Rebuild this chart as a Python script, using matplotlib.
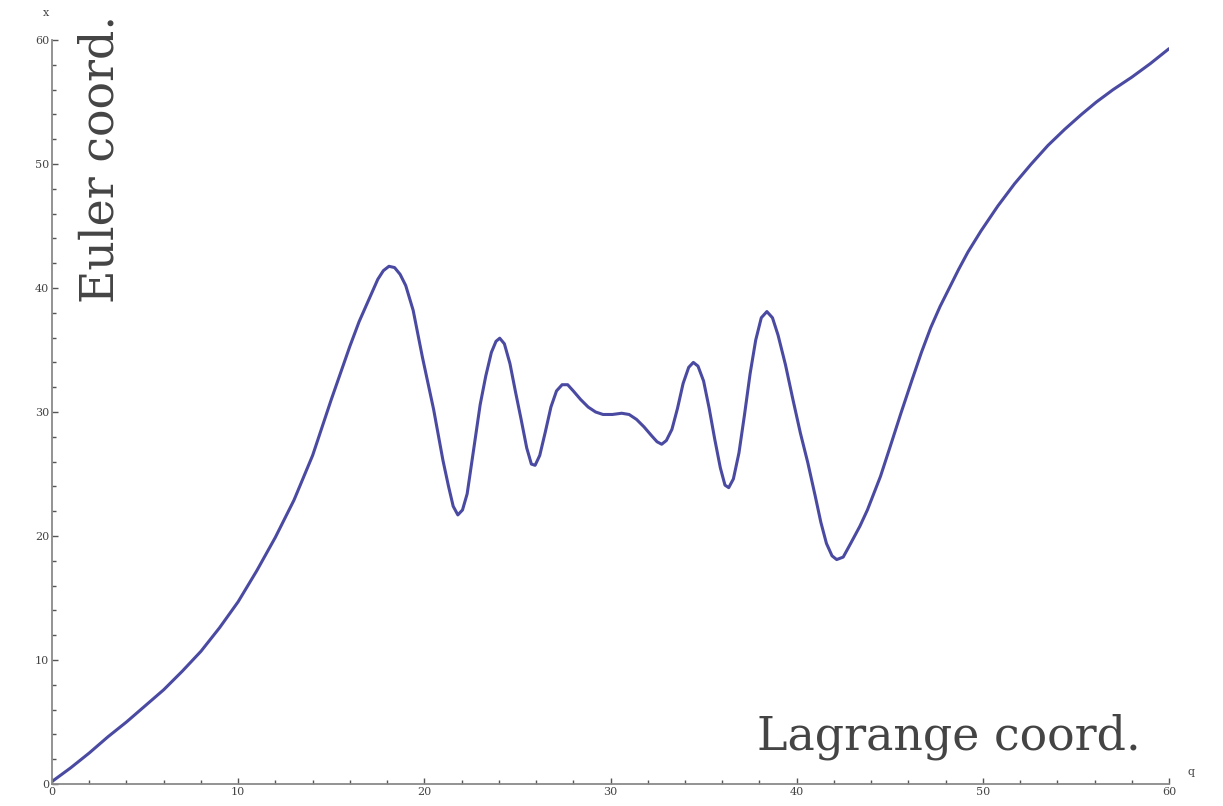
import matplotlib
matplotlib.use("Agg")
import matplotlib.pyplot as plt
from matplotlib.ticker import MultipleLocator

# Lagrange coordinate q vs Euler coordinate x
q = [0.0, 1.0, 2.0, 3.0, 4.0, 5.0, 6.0, 7.0, 8.0, 9.0, 10.0, 11.0, 12.0, 13.0, 14.0,
     15.0, 16.0, 16.5, 17.0, 17.5, 17.8, 18.1, 18.4, 18.7, 19.0, 19.4, 19.9, 20.5,
     21.0, 21.3, 21.55, 21.8, 22.05, 22.3, 22.7, 23.0, 23.3, 23.6, 23.85, 24.05,
     24.3, 24.6, 24.9, 25.2, 25.5, 25.75, 25.95, 26.2, 26.5, 26.8, 27.1, 27.4, 27.7,
     28.0, 28.4, 28.8, 29.2, 29.6, 30.1, 30.6, 31.0, 31.4, 31.8, 32.2, 32.5, 32.75,
     33.0, 33.3, 33.6, 33.9, 34.2, 34.45, 34.7, 35.0, 35.3, 35.6, 35.9, 36.15, 36.35,
     36.6, 36.9, 37.2, 37.5, 37.8, 38.1, 38.4, 38.7, 39.0, 39.4, 39.8, 40.2, 40.6,
     41.0, 41.3, 41.6, 41.9, 42.15, 42.5, 42.9, 43.4, 43.8, 44.5, 45.0, 45.6, 46.2,
     46.7, 47.2, 47.7, 48.2, 48.7, 49.2, 49.9, 50.8, 51.7, 52.6, 53.5, 54.4, 55.3,
     56.1, 57.0, 58.0, 59.0, 60.0]
x = [0.2, 1.3, 2.5, 3.8, 5.0, 6.3, 7.6, 9.1, 10.7, 12.6, 14.7, 17.2, 19.9, 22.9, 26.5,
     31.0, 35.3, 37.3, 39.0, 40.7, 41.4, 41.75, 41.65, 41.1, 40.2, 38.2, 34.4, 30.2,
     26.1, 24.0, 22.4, 21.7, 22.1, 23.4, 27.5, 30.6, 32.9, 34.8, 35.7, 35.95,
     35.5, 33.9, 31.6, 29.4, 27.1, 25.8, 25.7, 26.5, 28.4, 30.4, 31.7, 32.2, 32.2,
     31.7, 31.0, 30.4, 30.0, 29.8, 29.8, 29.9, 29.8, 29.4, 28.8, 28.1, 27.6, 27.4,
     27.7, 28.6, 30.3, 32.3, 33.6, 34.0, 33.7, 32.5, 30.3, 27.8, 25.5, 24.1, 23.9,
     24.6, 26.7, 29.8, 33.1, 35.8, 37.6, 38.1, 37.6, 36.2, 33.8, 31.0, 28.3, 25.9,
     23.2, 21.1, 19.4, 18.4, 18.1, 18.3, 19.4, 20.8, 22.1, 24.8, 27.1, 29.9, 32.6,
     34.8, 36.8, 38.5, 40.0, 41.5, 42.9, 44.6, 46.6, 48.4, 50.0, 51.5, 52.8, 54.0,
     55.0, 56.0, 57.0, 58.1, 59.3]

fig = plt.figure(figsize=(12.23, 8.06), dpi=100)
ax = fig.add_axes([52 / 1223, 22 / 806, 1117 / 1223, 744 / 806])

ax.plot(q, x, color="#4a4aa2", linewidth=2.2, solid_capstyle="round",
        solid_joinstyle="round")

ax.set_xlim(0, 60)
ax.set_ylim(0, 60)

for side in ["top", "right"]:
    ax.spines[side].set_visible(False)
for side in ["left", "bottom"]:
    ax.spines[side].set_color("#8a8a8a")
    ax.spines[side].set_linewidth(1.3)

ax.xaxis.set_major_locator(MultipleLocator(10))
ax.xaxis.set_minor_locator(MultipleLocator(2))
ax.yaxis.set_major_locator(MultipleLocator(10))
ax.yaxis.set_minor_locator(MultipleLocator(2))
ax.tick_params(which="both", direction="in", color="#555555", width=1.0,
               labelsize=8, labelcolor="#444444", pad=2)
ax.tick_params(which="major", length=4)
ax.tick_params(which="minor", length=3)
for lab in ax.get_xticklabels() + ax.get_yticklabels():
    lab.set_family("DejaVu Serif")

ax.text(-0.3, 61.8, "x", fontsize=8, color="#444444", family="DejaVu Serif",
        ha="center", va="bottom", clip_on=False)
ax.text(61.0, 0.6, "q", fontsize=8, color="#444444", family="DejaVu Serif",
        ha="left", va="bottom", clip_on=False)

ax.text(2.6, 62.0, "Euler coord.", rotation=90, fontsize=33, color="#444444",
        family="DejaVu Serif", ha="center", va="top")
ax.text(58.5, 2.8, "Lagrange coord.", fontsize=33, color="#444444",
        family="DejaVu Serif", ha="right", va="baseline")

fig.savefig("out.png", dpi=100)
